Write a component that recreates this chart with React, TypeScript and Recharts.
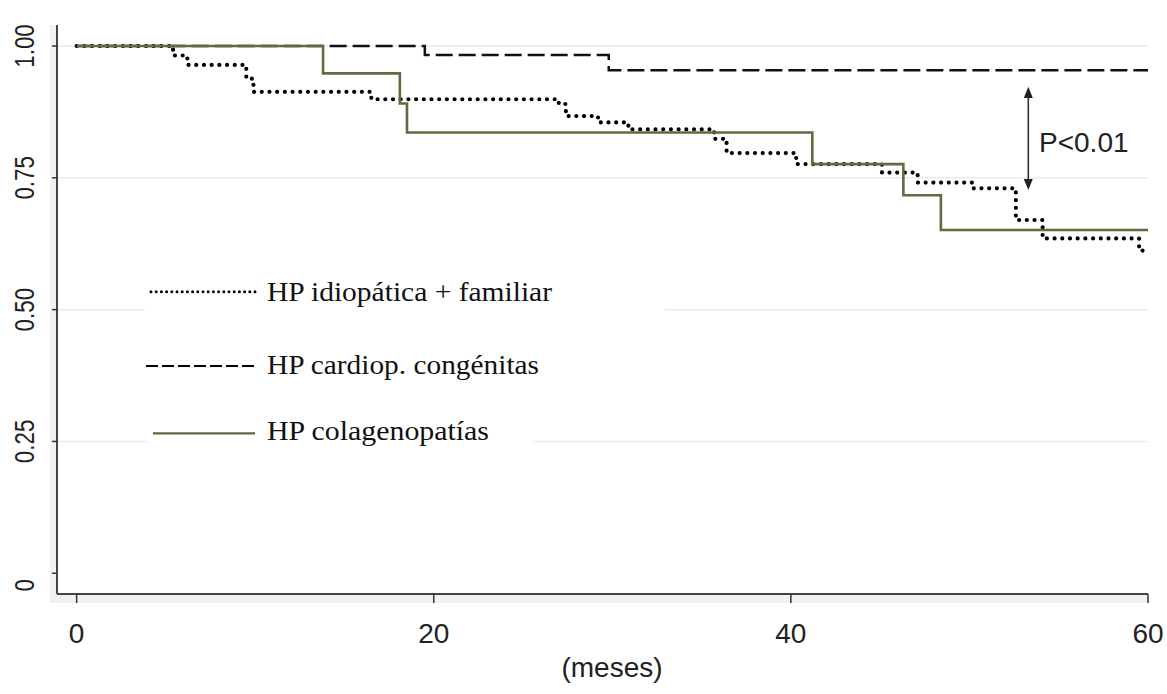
import { LineChart, Line, XAxis, YAxis, ReferenceLine } from "recharts";

// Kaplan-Meier curves, survival by months
const MONTHS_IDIO = [0, 5.4, 6.2, 9.5, 9.9, 16.5, 27.0, 27.4, 29.2, 30.9, 35.7, 36.4, 40.3, 45.1, 47.1, 50.2, 52.6, 54.1, 59.5, 60];
const SURV_IDIO = [1, 0.982, 0.964, 0.938, 0.913, 0.899, 0.89, 0.867, 0.855, 0.842, 0.824, 0.797, 0.776, 0.76, 0.741, 0.73, 0.67, 0.635, 0.612, 0.612];

const MONTHS_CONG = [0, 19.5, 29.8, 60];
const SURV_CONG = [1, 0.983, 0.954, 0.954];

const MONTHS_COL = [0, 13.8, 18.1, 18.5, 41.2, 46.3, 48.4, 60];
const SURV_COL = [1, 0.948, 0.891, 0.836, 0.776, 0.717, 0.651, 0.651];

const X_TICKS = [0, 20, 40, 60];
const Y_TICKS = [0, 0.25, 0.5, 0.75, 1];
const Y_TICK_LABELS = ["0", "0.25", "0.50", "0.75", "1.00"];
const GRID_VALUES = [0.25, 0.5, 0.75, 1];

const LEGEND_LABELS = ["HP idiopática + familiar", "HP cardiop. congénitas", "HP colagenopatías"];
const X_TITLE = "(meses)";
const P_TEXT = "P<0.01";

const GREEN = "#5d6d3e";
const SANS = "'Liberation Sans', Arial, sans-serif";
const SERIF = "'Liberation Serif', 'Times New Roman', serif";

const toRows = (ts: number[], ss: number[]) => ts.map((t, i) => ({ t, s: ss[i] }));
const idio = toRows(MONTHS_IDIO, SURV_IDIO);
const cong = toRows(MONTHS_CONG, SURV_CONG);
const col = toRows(MONTHS_COL, SURV_COL);

function XTick({ x, payload }: any) {
  return (
    <text x={x} y={643} textAnchor="middle" fontFamily={SANS} fontSize={28} fill="#222">
      {payload.value}
    </text>
  );
}

function YTick({ y, payload }: any) {
  const idx = Y_TICKS.indexOf(payload.value);
  // top label is pushed down to stay inside the picture, "0" sits a bit low
  const cy = payload.value === 0 ? y + 12 : Math.max(y, 23);
  return (
    <text
      transform={`translate(33.5, ${cy}) rotate(-90) scale(0.8, 1)`}
      textAnchor="middle"
      fontFamily={SANS}
      fontSize={28}
      fill="#222"
    >
      {Y_TICK_LABELS[idx]}
    </text>
  );
}

function Overlay() {
  const baselines = [300.7, 374, 440];
  const widths = [285, 272, 222];
  return (
    <svg width={1167} height={694} style={{ position: "absolute", left: 0, top: 0, pointerEvents: "none" }}>
      {/* legend boxes */}
      <rect x={145} y={272} width={520} height={44} fill="#fff" />
      <rect x={140} y={345} width={420} height={40} fill="#fff" />
      <rect x={148} y={413} width={385} height={39} fill="#fff" />
      <line x1={151} x2={255} y1={291.7} y2={291.7} stroke="#000" strokeWidth={3} strokeDasharray="0 5.2" strokeLinecap="round" />
      <line x1={146} x2={255} y1={366} y2={366} stroke="#000" strokeWidth={2.2} strokeDasharray="12 4" />
      <line x1={153} x2={255} y1={433.3} y2={433.3} stroke={GREEN} strokeWidth={2.2} />
      {LEGEND_LABELS.map((l, i) => (
        <text
          key={l}
          x={267}
          y={baselines[i]}
          fontFamily={SERIF}
          fontSize={27}
          fill="#111"
          textLength={widths[i]}
          lengthAdjust="spacingAndGlyphs"
        >
          {l}
        </text>
      ))}
      {/* p-value arrow */}
      <line x1={1028.3} x2={1028.3} y1={96} y2={181} stroke="#333" strokeWidth={1.6} />
      <polygon points="1028.3,86.7 1023.8,98 1032.8,98" fill="#222" />
      <polygon points="1028.3,190 1023.8,179 1032.8,179" fill="#222" />
      <text x={1039} y={152} fontFamily={SANS} fontSize={28} fill="#222">
        {P_TEXT}
      </text>
      <text x={612} y={677} textAnchor="middle" fontFamily={SANS} fontSize={28} fill="#222">
        {X_TITLE}
      </text>
    </svg>
  );
}

export default function App() {
  return (
    <div style={{ position: "absolute", left: 0, top: 0, width: 1167, height: 694, background: "#fff" }}>
      <svg width={1167} height={694} style={{ position: "absolute", left: 0, top: 0 }}>
        <rect x={50} y={25} width={7} height={578} fill="#eef2f5" />
        <rect x={50} y={594} width={1098} height={9} fill="#eef2f5" />
      </svg>
      <div style={{ position: "absolute", left: 0, top: 0 }}>
        <LineChart width={1167} height={694} margin={{ top: 25, right: 19, bottom: 0, left: 0 }}>
          <XAxis
            dataKey="t"
            type="number"
            domain={[-1.1, 60]}
            allowDataOverflow
            ticks={X_TICKS}
            height={100}
            tickSize={9}
            axisLine={{ stroke: "#444", strokeWidth: 2 }}
            tickLine={{ stroke: "#333", strokeWidth: 1.5 }}
            tick={<XTick />}
          />
          <YAxis
            type="number"
            domain={[-0.0393, 1.0398]}
            allowDataOverflow
            ticks={Y_TICKS}
            width={57}
            tickSize={5}
            axisLine={{ stroke: "#444", strokeWidth: 2 }}
            tickLine={{ stroke: "#333", strokeWidth: 1.5 }}
            tick={<YTick />}
          />
          {GRID_VALUES.map((v) => (
            <ReferenceLine key={v} y={v} stroke="#e6ebee" strokeWidth={1.5} />
          ))}
          <Line data={cong} dataKey="s" type="stepAfter" stroke="#111" strokeWidth={2.5} strokeDasharray="17 6" dot={false} activeDot={false} isAnimationActive={false} />
          <Line data={idio} dataKey="s" type="stepAfter" stroke="#000" strokeWidth={4.2} strokeDasharray="0 7.7" strokeLinecap="round" dot={false} activeDot={false} isAnimationActive={false} />
          <Line data={col} dataKey="s" type="stepAfter" stroke={GREEN} strokeWidth={2.6} dot={false} activeDot={false} isAnimationActive={false} />
        </LineChart>
      </div>
      <Overlay />
    </div>
  );
}
